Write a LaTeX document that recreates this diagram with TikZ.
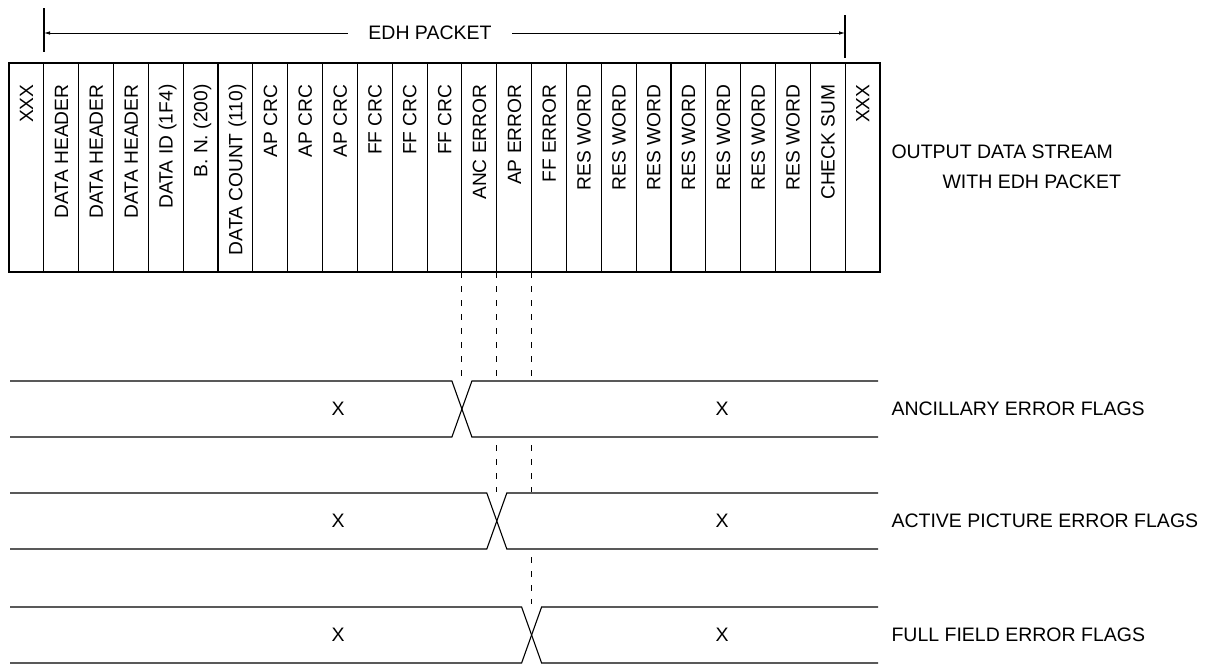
\documentclass[tikz,border=0pt]{standalone}
\usepackage{fontspec}
\setmainfont{Liberation Sans}
\usetikzlibrary{arrows.meta}
\begin{document}
\begin{tikzpicture}[
		x=1pt, y=-1pt,
		line width=1.1pt,
		word/.style={rotate=90, anchor=base east, inner sep=0pt, font=\fontsize{19.2}{21}\selectfont},
		tag/.style={anchor=west, inner sep=0pt, font=\fontsize{19.5}{22}\selectfont},
		flag/.style={inner sep=0pt, font=\fontsize{19.5}{22}\selectfont},
		guide/.style={dash pattern=on 6pt off 8pt, line width=0.9pt},
		span/.style={-{Latex[length=6pt,width=3.5pt]}, line width=0.8pt}
	]
	\useasboundingbox (0,0) rectangle (1214,667);
	\node[flag, inner xsep=20pt] (edh) at (430,33) {EDH PACKET};
	\coordinate (lbar) at (44,33);
	\coordinate (rbar) at (845,33);
	\draw[span] (edh.west) -- (lbar);
	\draw[span] (edh.east) -- (rbar);
	\draw (44,8) -- (44,52);
	\draw (845,15) -- (845,58);
	\draw (9,63) rectangle (880,272);
	\foreach \t [count=\i] in {XXX, DATA HEADER, DATA HEADER, DATA HEADER, DATA ID (1F4),
			B. N. (200), DATA COUNT (110), AP CRC, AP CRC, AP CRC, FF CRC, FF CRC, FF CRC,
			ANC ERROR, AP ERROR, FF ERROR, RES WORD, RES WORD, RES WORD, RES WORD,
			RES WORD, RES WORD, RES WORD, CHECK SUM, XXX}
		\node[word] (w\i) at ({34.84*\i-1.6}, 84) {\t};
	\foreach \k in {1,...,24}
		\draw ({9+34.84*\k},63) -- ({9+34.84*\k},272) coordinate (b\k);
	\node[tag] (out) at (891,152) {OUTPUT DATA STREAM};
	\node[tag] (with) at (942,182) {WITH EDH PACKET};
	\foreach \y/\c/\n/\t in {381/461.9/anc/ANCILLARY ERROR FLAGS,
			493/496.8/ap/ACTIVE PICTURE ERROR FLAGS,
			607/531.6/ff/FULL FIELD ERROR FLAGS}
		{
		\draw (10,\y) -- ({\c-10},\y) -- ({\c+10},{\y+56}) -- (878,{\y+56});
		\draw (10,{\y+56}) -- ({\c-10},{\y+56}) -- ({\c+10},\y) -- (878,\y);
		\node[flag] (\n x1) at (338,{\y+28}) {X};
		\node[flag] (\n x2) at (722,{\y+28}) {X};
		\node[tag] (\n) at (891,{\y+28}) {\t};
		}
	\coordinate (t1) at (0,376);
	\coordinate (t2) at (0,492);
	\coordinate (t3) at (0,604);
	\coordinate (u1) at (0,445);
	\coordinate (u2) at (0,557);
	\draw[guide] (b13) -- (b13 |- t1);
	\draw[guide] (b14) -- (b14 |- t1);
	\draw[guide] (b15) -- (b15 |- t1);
	\draw[guide] (b14 |- u1) -- (b14 |- t2);
	\draw[guide] (b15 |- u1) -- (b15 |- t2);
	\draw[guide] (b15 |- u2) -- (b15 |- t3);
\end{tikzpicture}
\end{document}
